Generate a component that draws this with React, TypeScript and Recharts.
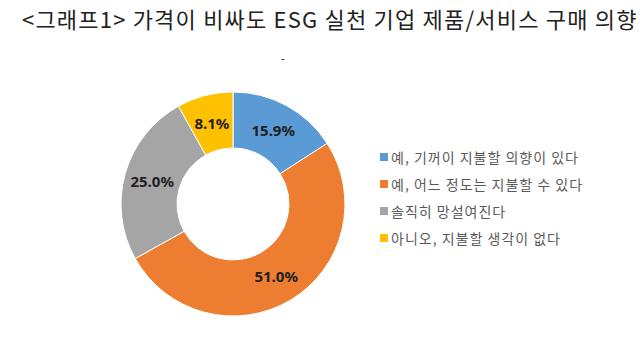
import React from "react";
import { PieChart, Pie, Cell, Legend } from "recharts";

const categories = [
  "예, 기꺼이 지불할 의향이 있다",
  "예, 어느 정도는 지불할 수 있다",
  "솔직히 망설여진다",
  "아니오, 지불할 생각이 없다",
];
const shares = [15.9, 51.0, 25.0, 8.1];
const colors = ["#5B9BD5", "#ED7D31", "#A5A5A5", "#FFC000"];

const title = "<그래프1> 가격이 비싸도 ESG 실천 기업 제품/서비스 구매 의향";

const data = categories.map((name, i) => ({ name, value: shares[i] }));

const RAD = Math.PI / 180;

function renderLabel(p: any) {
  const r = (p.innerRadius + p.outerRadius) / 2;
  const x = p.cx + r * Math.cos(-p.midAngle * RAD);
  const y = p.cy + r * Math.sin(-p.midAngle * RAD);
  return (
    <text
      x={x}
      y={y}
      textAnchor="middle"
      dominantBaseline="central"
      fill="#1f1f1f"
      fontSize={15}
      fontWeight="bold"
      fontFamily="'Noto Sans', sans-serif"
    >
      {p.value.toFixed(1)}%
    </text>
  );
}

function LegendBox() {
  return (
    <div style={{ fontFamily: "'Noto Sans CJK KR', sans-serif", fontSize: 14, letterSpacing: 1, color: "#5a5a5a" }}>
      {data.map((d, i) => (
        <div key={d.name} style={{ display: "flex", alignItems: "center", height: 27 }}>
          <span style={{ width: 8, height: 8, background: colors[i], marginRight: 3, display: "inline-block" }} />
          <span>{d.name}</span>
        </div>
      ))}
    </div>
  );
}

export default function App() {
  return (
    <div style={{ position: "absolute", left: 0, top: 0, width: 640, height: 360, background: "#fff", overflow: "hidden" }}>
      <div
        style={{
          position: "absolute",
          left: 22,
          top: 2,
          whiteSpace: "nowrap",
          fontFamily: "'Noto Sans CJK KR', sans-serif",
          fontSize: 22,
          color: "#222",
          letterSpacing: 1.2,
        }}
      >
        {title}
      </div>
      <div style={{ position: "absolute", left: 281, top: 50, fontSize: 12, color: "#444", fontFamily: "'Noto Sans', sans-serif" }}>-</div>
      <PieChart width={640} height={360}>
        <Pie
          data={data}
          dataKey="value"
          nameKey="name"
          cx={228}
          cy={199}
          innerRadius={56}
          outerRadius={112}
          startAngle={90}
          endAngle={-270}
          stroke="#ffffff"
          strokeWidth={1}
          label={renderLabel}
          labelLine={false}
          isAnimationActive={false}
        >
          {data.map((d, i) => (
            <Cell key={d.name} fill={colors[i]} />
          ))}
        </Pie>
        <Legend
          layout="vertical"
          content={() => <LegendBox />}
          wrapperStyle={{ left: 380, top: 143, width: 260 }}
        />
      </PieChart>
    </div>
  );
}
